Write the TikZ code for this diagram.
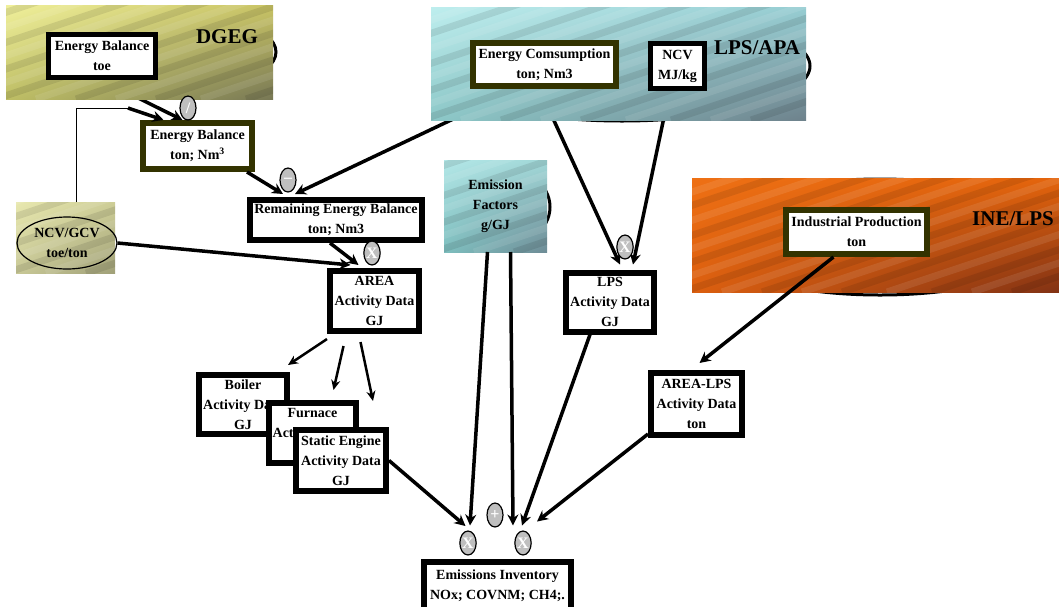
\documentclass[tikz,border=0pt]{standalone}
\usepackage{fontspec}
\setmainfont{Liberation Serif}
\usetikzlibrary{arrows.meta,shapes.geometric,shadings}
\pgfdeclarelayer{back}
\pgfdeclarelayer{mid}
\pgfsetlayers{back,mid,main}
\definecolor{olivedark}{RGB}{51,51,0}

\begin{document}
\begin{tikzpicture}[
    x=1pt, y=-1pt,
    txt/.style={font=\bfseries\fontsize{14}{20}\selectfont, align=center},
    databox/.style={txt, draw=black, line width=5pt, fill=white, inner sep=1pt},
    srcbox/.style={databox, draw=olivedark, line width=6pt},
    backdrop/.style={shade, inner sep=0pt, outer sep=0pt},
    streak/.style={line width=7pt, opacity=0.09},
    srclbl/.style={font=\bfseries\fontsize{21}{21}\selectfont},
    op/.style={ellipse, draw=black, line width=1.2pt, fill=gray!50, minimum width=16pt, minimum height=24pt, inner sep=0pt, text=white, font=\bfseries\fontsize{16}{16}\selectfont},
    flow/.style={-{Stealth[length=11pt,width=11pt]}, line width=3.5pt},
    split/.style={-{Stealth[length=10pt,width=9pt]}, line width=2.5pt},
]
\useasboundingbox (0,0) rectangle (1059,606);

% source backdrops
\begin{pgfonlayer}{mid}
\node[backdrop, minimum width=267pt, minimum height=94pt,
  upper left={rgb,255:red,240;green,240;blue,155}, upper right={rgb,255:red,200;green,195;blue,100},
  lower left={rgb,255:red,190;green,190;blue,100}, lower right={rgb,255:red,120;green,120;blue,85}] (dgeg) at (139.5,52) {};
\node[backdrop, minimum width=375pt, minimum height=113pt,
  upper left={rgb,255:red,190;green,238;blue,238}, upper right={rgb,255:red,150;green,205;blue,210},
  lower left={rgb,255:red,140;green,200;blue,200}, lower right={rgb,255:red,110;green,130;blue,140}] (lpsapa) at (618.5,63.5) {};
\node[backdrop, minimum width=367pt, minimum height=114pt,
  upper left={rgb,255:red,238;green,112;blue,20}, upper right={rgb,255:red,228;green,100;blue,12},
  lower left={rgb,255:red,220;green,95;blue,15}, lower right={rgb,255:red,130;green,50;blue,20}] (ine) at (875.5,235) {};
\node[backdrop, minimum width=103pt, minimum height=92pt,
  upper left={rgb,255:red,180;green,232;blue,232}, upper right={rgb,255:red,160;green,215;blue,215},
  lower left={rgb,255:red,125;green,190;blue,190}, lower right={rgb,255:red,110;green,140;blue,150}] (efbg) at (495.5,206) {};
\node[backdrop, minimum width=99pt, minimum height=71pt,
  upper left={rgb,255:red,232;green,232;blue,175}, upper right={rgb,255:red,205;green,205;blue,150},
  lower left={rgb,255:red,200;green,200;blue,150}, lower right={rgb,255:red,160;green,160;blue,120}] (ncvbg) at (65.5,237.5) {};
% diagonal streaks
\foreach \bg in {dgeg,lpsapa,ine,efbg,ncvbg} {
  \begin{scope}
    \clip (\bg.south west) rectangle (\bg.north east);
    \foreach \d/\c in {-300/white,-260/black,-215/white,-170/black,-130/white,-90/black,-50/white,-10/black,30/white,70/black,110/white,150/black,195/white,240/black,280/white,320/black} {
      \draw[streak, draw=\c] ([xshift=\d pt]\bg.south west) -- ++(420,-140);
    }
  \end{scope}
}
\node[txt] (eftext) at (efbg) {Emission\\Factors\\g/GJ};
\end{pgfonlayer}

% source boxes
\node[srclbl] (dgeglbl) at (227,37) {DGEG};
\node[srclbl] (lpsapalbl) at (757,48) {LPS/APA};
\node[srclbl] (inelbl) at (1013,219) {INE/LPS};
\node[databox, minimum width=107pt, minimum height=43pt] (ebtoe) at (102,56) {Energy Balance\\toe};
\node[srcbox, minimum width=143pt, minimum height=43pt] (ecomp) at (544.5,64.5) {Energy Comsumption\\ton; Nm3};
\node[databox, minimum width=54pt, minimum height=45pt] (ncv) at (677.5,66) {NCV\\MJ/kg};
\node[srcbox, minimum width=141pt, minimum height=44pt] (indprod) at (856.5,232) {Industrial Production\\ton};
\node[ellipse, draw, line width=1.2pt, txt, minimum width=100pt, minimum height=52pt, inner sep=0pt] (ncvell) at (67,243) {NCV/GCV\\toe/ton};

% activity data
\node[srcbox, minimum width=109pt, minimum height=46pt] (ebton) at (197.5,146) {Energy Balance\\ton; Nm\textsuperscript{3}};
\node[databox, line width=6pt, minimum width=172pt, minimum height=40pt] (remain) at (336,220) {Remaining Energy Balance\\ton; Nm3};
\node[databox, line width=6pt, minimum width=89pt, minimum height=60pt] (area) at (374.5,301) {AREA\\Activity Data\\GJ};
\node[databox, line width=6pt, minimum width=88pt, minimum height=59pt] (lpsad) at (610,302) {LPS\\Activity Data\\GJ};
\node[databox, line width=6pt, minimum width=91pt, minimum height=62pt] (arealps) at (696.5,404) {AREA-LPS\\Activity Data\\ton};
\node[databox, line width=6pt, minimum width=88pt, minimum height=59pt] (boiler) at (243,404.5) {Boiler\\Activity Data\\GJ};
\node[databox, line width=6pt, minimum width=87pt, minimum height=60pt] (furnace) at (312.5,433) {Furnace\\Activity Data\\GJ};
\node[databox, line width=6pt, minimum width=90pt, minimum height=61pt] (static) at (341,460.5) {Static Engine\\Activity Data\\GJ};
\node[databox, line width=6pt, minimum width=147pt, minimum height=48pt] (inv) at (497.5,586) {Emissions Inventory\\NOx; COVNM; CH4;.};

% ellipses and links under the backdrops
\begin{pgfonlayer}{back}
\draw[line width=3pt, fill=white] (150,52) ellipse [x radius=126pt, y radius=44pt];
\draw[line width=3pt, fill=white] (622,66) ellipse [x radius=188pt, y radius=55pt];
\draw[line width=3pt, fill=white] (880,237) ellipse [x radius=180pt, y radius=58pt];
\draw[line width=3pt, fill=white] (500,207) ellipse [x radius=50pt, y radius=40pt];
\draw[flow] (ebtoe.south) -- ([xshift=-15pt]ebton.north);
\draw[flow] ([xshift=-28pt]ecomp.south) -- ([shift={(-41pt,3pt)}]remain.north);
\draw[flow] ([xshift=-5pt]ecomp.south) -- ([shift={(10pt,5pt)}]lpsad.north);
\draw[flow] ([xshift=-8pt]ncv.south) -- ([shift={(23pt,5pt)}]lpsad.north);
\end{pgfonlayer}

\coordinate (ncvbend) at (128,108);
\draw[line width=1pt] ([xshift=11pt]ncvbg.north) |- (ncvbend);
\draw[flow] (ncvbend) -- ([xshift=-34pt]ebton.north);
\draw[flow] ([xshift=-8pt]ebton.south east) -- ([shift={(-53pt,3pt)}]remain.north);
\draw[flow] ([xshift=-6pt]remain.south) -- ([shift={(-16pt,3pt)}]area.north);
\draw[flow] (ncvell.east) -- ([shift={(-24pt,3pt)}]area.north);
\draw[split] ([yshift=-5pt]area.south west) -- ([shift={(-2pt,7pt)}]boiler.north east);
\draw[split] ([shift={(-31pt,-12pt)}]area.south) -- ([shift={(21pt,10pt)}]furnace.north);
\draw[split] ([shift={(-14pt,-8pt)}]area.south) -- ([shift={(32pt,26pt)}]static.north);
\draw[flow] (static.east) -- ([shift={(-32pt,33pt)}]inv.north);
\draw[flow] ([xshift=-8pt]efbg.south) -- ([shift={(-27.5pt,33.5pt)}]inv.north);
\draw[flow] ([xshift=15pt]efbg.south) -- ([shift={(15.5pt,33.5pt)}]inv.north);
\draw[flow] ([xshift=-20pt]lpsad.south) -- ([shift={(24.5pt,33.5pt)}]inv.north);
\draw[flow] ([yshift=4pt]arealps.south west) -- ([shift={(39.5pt,37.5pt)}]inv.north);
\draw[flow] ([xshift=-23pt]indprod.south) -- ([shift={(3pt,7pt)}]arealps.north);

% operators
\node[op] (opdiv) at (188,108) {/};
\node[op] (opminus) at (288,180) {\textendash};
\node[op] (opmularea) at (372,253) {X};
\node[op] (opmullps) at (625,247) {X};
\node[op] (opplus) at (495,515) {+};
\node[op] (opmulleft) at (468,543) {X};
\node[op] (opmulright) at (523,543) {X};
\end{tikzpicture}
\end{document}
